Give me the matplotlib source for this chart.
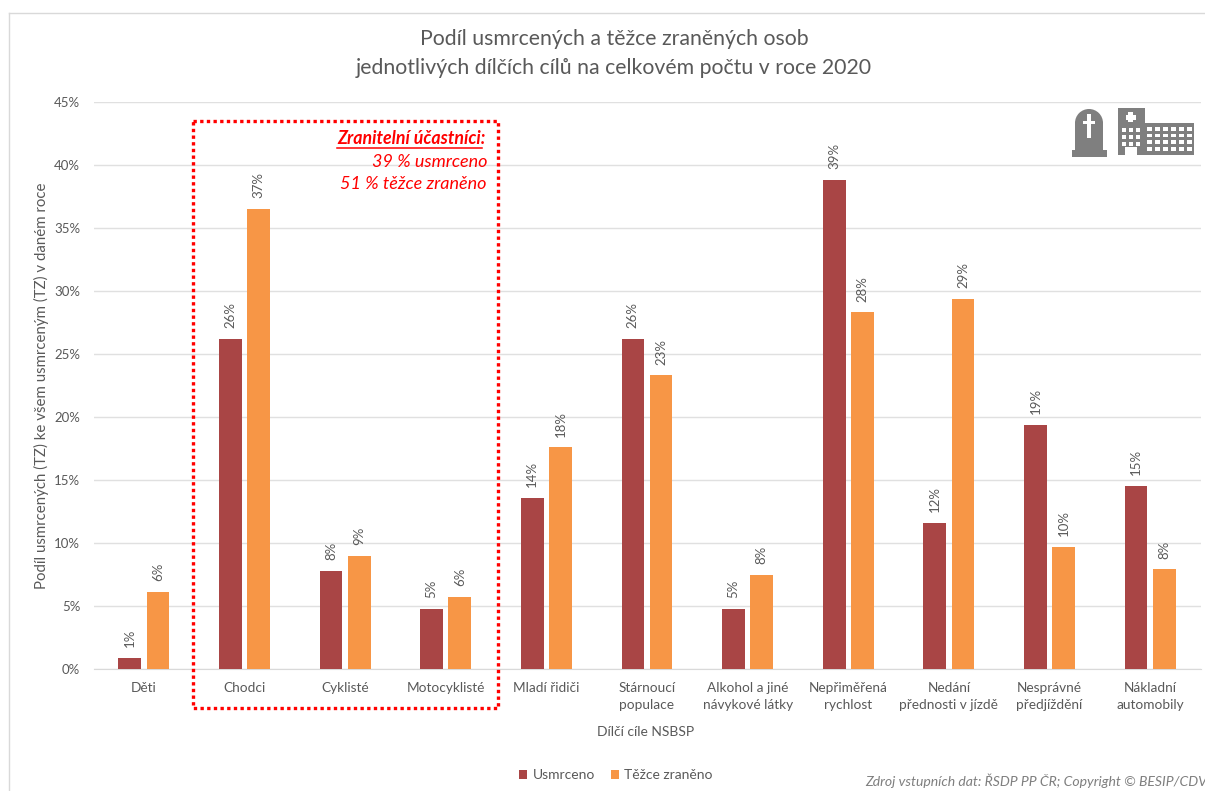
# -*- coding: utf-8 -*-
import matplotlib
matplotlib.use('Agg')
import matplotlib.pyplot as plt
from matplotlib.patches import Rectangle, Wedge
import numpy as np

plt.rcParams['font.family'] = ['Lato', 'DejaVu Sans']

W, H = 1205, 791

categories = ['Děti', 'Chodci', 'Cyklisté', 'Motocyklisté', 'Mladí řidiči',
              'Stárnoucí\npopulace', 'Alkohol a jiné\nnávykové látky',
              'Nepřiměřená\nrychlost', 'Nedání\npřednosti v jízdě',
              'Nesprávné\npředjíždění', 'Nákladní\nautomobily']
usmrceno = [0.9, 26.2, 7.8, 4.8, 13.6, 26.2, 4.8, 38.8, 11.6, 19.4, 14.51]
zraneno = [6.1, 36.51, 9.0, 5.7, 17.6, 23.3, 7.5, 28.3, 29.4, 9.7, 7.9]
y_ticks = [0, 5, 10, 15, 20, 25, 30, 35, 40, 45]

DARK = '#A94545'
ORANGE = '#F79646'
GREY = '#595959'
ICON = '#7F7F7F'

fig = plt.figure(figsize=(W / 100, H / 100), dpi=100)
ax = fig.add_axes([93.5 / W, 1 - 669 / H, 1107 / W, 567 / H])

x = np.arange(len(categories))
ax.bar(x - 0.14, usmrceno, 0.225, color=DARK, label='Usmrceno', zorder=3)
ax.bar(x + 0.14, zraneno, 0.225, color=ORANGE, label='Těžce zraněno', zorder=3)

# rotated value labels above the bars
for i in x:
    ax.text(i - 0.14, usmrceno[i] + 0.85, f'{usmrceno[i]:.0f}%', rotation=90,
            ha='center', va='bottom', fontsize=9.5, color=GREY, zorder=4)
    ax.text(i + 0.14, zraneno[i] + 0.85, f'{zraneno[i]:.0f}%', rotation=90,
            ha='center', va='bottom', fontsize=9.5, color=GREY, zorder=4)

ax.set_xlim(-0.5, len(categories) - 0.5)
ax.set_ylim(0, 45)
ax.set_yticks(y_ticks)
ax.set_yticklabels([f'{v}%' for v in y_ticks], fontsize=9.5, color=GREY)
ax.set_xticks(x)
ax.set_xticklabels(categories, fontsize=9.8, color=GREY, linespacing=1.55)
ax.tick_params(length=0)
ax.tick_params(axis='x', pad=9)
ax.tick_params(axis='y', pad=9.5)
ax.grid(axis='y', color='#E0E0E0', lw=1, zorder=0)
ax.set_axisbelow(True)
for side in ['top', 'left', 'right']:
    ax.spines[side].set_visible(False)
ax.spines['bottom'].set_color('#D9D9D9')


def px_text(px, py, s, **kw):
    return fig.text(px / W, 1 - py / H, s, **kw)


px_text(614, 53.5, 'Podíl usmrcených a těžce zraněných osob\n'
        'jednotlivých dílčích cílů na celkovém počtu v roce 2020',
        ha='center', va='center', fontsize=15.3, color=GREY, linespacing=1.55)
px_text(41, 386, 'Podíl usmrcených (TZ) ke všem usmrceným (TZ) v daném roce',
        rotation=90, ha='center', va='center', fontsize=10.8, color=GREY)
px_text(646, 732, 'Dílčí cíle NSBSP', ha='center', va='center', fontsize=10, color=GREY)

handles, labels = ax.get_legend_handles_labels()
fig.legend(handles, labels, loc='center', ncol=2, frameon=False, fontsize=10,
           labelcolor=GREY, bbox_to_anchor=(616 / W, 1 - 775 / H),
           handlelength=0.6, handleheight=0.6, handletextpad=0.4, columnspacing=1.1)

px_text(1207, 781, 'Zdroj vstupních dat: ŘSDP PP ČR; Copyright © BESIP/CDV',
        ha='right', va='center', fontsize=10.1, style='italic', color='#7F7F7F')

# overlay in pixel coordinates (y down)
ov = fig.add_axes([0, 0, 1, 1], facecolor='none')
ov.set_xlim(0, W)
ov.set_ylim(H, 0)
ov.axis('off')

# red dotted frame around the vulnerable road users
ov.add_patch(Rectangle((193, 121), 305, 587, fill=False, ec='#FF0000', lw=2.4,
                       ls=(0, (1, 1)), zorder=6))
ov.text(486, 139, 'Zranitelní účastníci:', ha='right', va='center', fontsize=12.8,
        style='italic', weight='bold', color='#FF0000')
ov.plot([337, 482], [148, 148], color='#FF0000', lw=1.1)
ov.text(487, 162, '39 % usmrceno', ha='right', va='center', fontsize=13,
        style='italic', color='#FF0000')
ov.text(487, 184, '51 % těžce zraněno', ha='right', va='center', fontsize=13,
        style='italic', color='#FF0000')

# thin chart border on the left and top
ov.plot([8.5, 8.5], [13, H], color='#D9D9D9', lw=1)
ov.plot([8.5, W], [13, 13], color='#D9D9D9', lw=1)

# gravestone icon
ov.add_patch(Rectangle((1072, 150), 35, 7, color=ICON, lw=0))
ov.add_patch(Rectangle((1075, 122), 28, 29, color=ICON, lw=0))
ov.add_patch(Wedge((1089, 123), 14, 180, 360, color=ICON, lw=0))
ov.add_patch(Rectangle((1087, 114), 4, 24, color='white', lw=0))
ov.add_patch(Rectangle((1083, 120.5), 12, 3.5, color='white', lw=0))

# hospital icon
ov.add_patch(Rectangle((1118, 108), 27, 47, color=ICON, lw=0))
ov.add_patch(Rectangle((1145, 123), 49, 32, color=ICON, lw=0))
ov.add_patch(Rectangle((1128, 112), 5, 10, color='white', lw=0))
ov.add_patch(Rectangle((1125.5, 114.5), 10, 5, color='white', lw=0))
for row in range(3):
    for col in range(3):
        ov.add_patch(Rectangle((1121.5 + col * 7, 127.5 + row * 7), 4, 4, color='white', lw=0))
for row in range(4):
    for col in range(6):
        ov.add_patch(Rectangle((1147 + col * 8, 127 + row * 6.7), 5, 3.5, color='white', lw=0))
ov.add_patch(Rectangle((1125, 147), 12, 8, color='white', lw=0))

fig.savefig('out.png', dpi=100)
